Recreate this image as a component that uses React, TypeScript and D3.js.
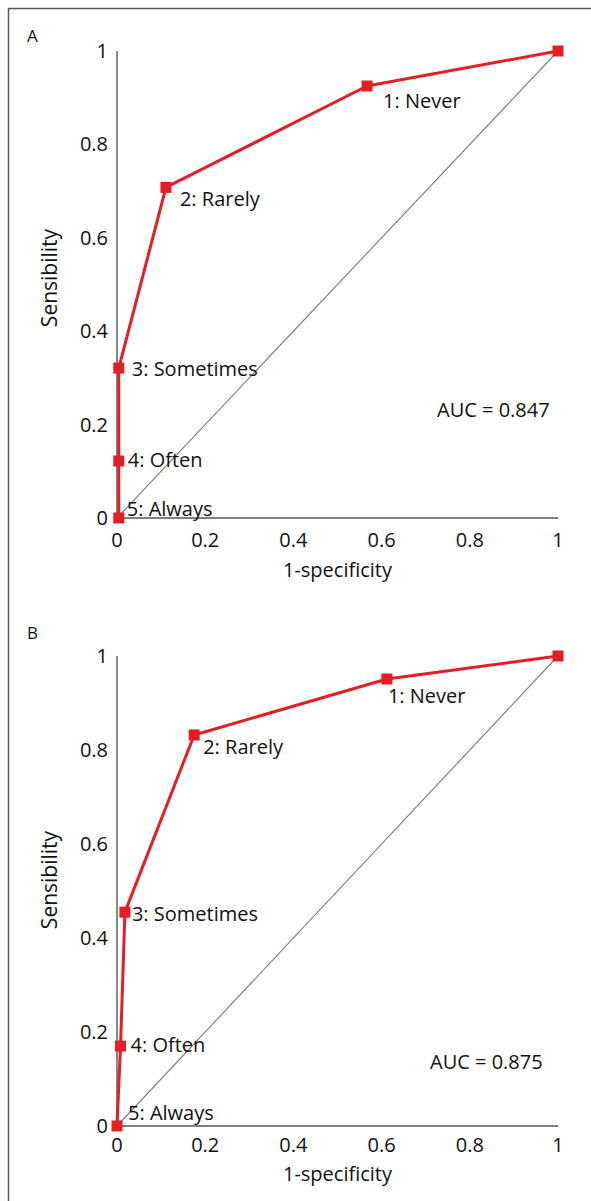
import React from "react";
import * as d3 from "d3";

// ---- Data ----
const tickValues = [0, 0.2, 0.4, 0.6, 0.8, 1];
const tickLabels = ["0", "0.2", "0.4", "0.6", "0.8", "1"];
const pointLabels = ["5: Always", "4: Often", "3: Sometimes", "2: Rarely", "1: Never", ""];

const fprA = [0.004, 0.004, 0.004, 0.111, 0.567, 1];
const tprA = [0, 0.122, 0.321, 0.708, 0.925, 1];
const aucA = "AUC = 0.847";

const fprB = [0, 0.008, 0.018, 0.175, 0.612, 1];
const tprB = [0, 0.17, 0.455, 0.832, 0.951, 1];
const aucB = "AUC = 0.875";

const xTitle = "1-specificity";
const yTitle = "Sensibility";

// ---- Layout (not data) ----
const W = 591;
const H = 1201;
const FONT = "'Open Sans', 'Noto Sans', sans-serif";
const RED = "#e31e24";

type PanelCfg = {
  letter: string;
  letterY: number;
  fpr: number[];
  tpr: number[];
  auc: string;
  aucX: number;
  aucY: number;
  y0: number;
  y1: number;
  xTickDy: number;
  xTitleY: number;
  yTitleY: number;
  labelOffsets: [number, number][];
};

const panels: PanelCfg[] = [
  {
    letter: "A",
    letterY: 42,
    fpr: fprA,
    tpr: tprA,
    auc: aucA,
    aucX: 437,
    aucY: 417,
    y0: 518,
    y1: 51,
    xTickDy: 29,
    xTitleY: 577,
    yTitleY: 278,
    labelOffsets: [
      [8, -2],
      [9, 6],
      [13, 8],
      [14, 19],
      [16, 22],
      [0, 0],
    ],
  },
  {
    letter: "B",
    letterY: 639,
    fpr: fprB,
    tpr: tprB,
    auc: aucB,
    aucX: 430,
    aucY: 1069,
    y0: 1126,
    y1: 656,
    xTickDy: 26,
    xTitleY: 1181,
    yTitleY: 880,
    labelOffsets: [
      [11, -6],
      [10, 6],
      [7, 9],
      [9, 19],
      [1, 24],
      [0, 0],
    ],
  },
];

const X0 = 117;
const X1 = 558;

function Panel({ cfg }: { cfg: PanelCfg }) {
  const x = d3.scaleLinear().domain([0, 1]).range([X0, X1]);
  const y = d3.scaleLinear().domain([0, 1]).range([cfg.y0, cfg.y1]);
  const pts = cfg.fpr.map((f, i) => [f, cfg.tpr[i]] as [number, number]);
  const line = d3
    .line<[number, number]>()
    .x((d) => x(d[0]))
    .y((d) => y(d[1]));
  const sq = 11;
  return (
    <g>
      <text x={27} y={cfg.letterY} fontSize={17} fill="#111">
        {cfg.letter}
      </text>
      {/* diagonal reference */}
      <line x1={x(0)} y1={y(0)} x2={x(1)} y2={y(1)} stroke="#7a7a7a" strokeWidth={1.1} />
      {/* axes */}
      <line x1={x(0)} y1={y(0)} x2={x(0)} y2={y(1)} stroke="#111" strokeWidth={1} />
      <line x1={x(0)} y1={y(0)} x2={x(1)} y2={y(0)} stroke="#555" strokeWidth={1.4} />
      {/* y ticks */}
      {tickValues.map((t, i) => (
        <text
          key={"y" + i}
          x={X0 - 9}
          y={y(t)}
          dy="0.35em"
          textAnchor="end"
          fontSize={20}
          fill="#111"
        >
          {tickLabels[i]}
        </text>
      ))}
      {/* x ticks */}
      {tickValues.map((t, i) => (
        <text
          key={"x" + i}
          x={x(t)}
          y={cfg.y0 + cfg.xTickDy}
          textAnchor="middle"
          fontSize={20}
          fill="#111"
        >
          {tickLabels[i]}
        </text>
      ))}
      <text x={(X0 + X1) / 2} y={cfg.xTitleY} textAnchor="middle" fontSize={20} fill="#111">
        {xTitle}
      </text>
      <text
        transform={`translate(57,${cfg.yTitleY}) rotate(-90)`}
        textAnchor="middle"
        fontSize={21}
        fill="#111"
      >
        {yTitle}
      </text>
      {/* ROC curve */}
      <path d={line(pts) || ""} fill="none" stroke={RED} strokeWidth={3} strokeLinejoin="round" />
      {pts.map((p, i) => (
        <rect
          key={"p" + i}
          x={x(p[0]) - sq / 2}
          y={y(p[1]) - sq / 2}
          width={sq}
          height={sq}
          fill={RED}
        />
      ))}
      {pts.map((p, i) =>
        pointLabels[i] ? (
          <text
            key={"l" + i}
            x={x(p[0]) + cfg.labelOffsets[i][0]}
            y={y(p[1]) + cfg.labelOffsets[i][1]}
            fontSize={20}
            fill="#111"
          >
            {pointLabels[i]}
          </text>
        ) : null
      )}
      <text x={cfg.aucX} y={cfg.aucY} fontSize={20} fill="#111">
        {cfg.auc}
      </text>
    </g>
  );
}

export default function App() {
  return (
    <svg
      width={W}
      height={H}
      viewBox={`0 0 ${W} ${H}`}
      style={{ position: "absolute", left: 0, top: 0, background: "#fff" }}
      fontFamily={FONT}
    >
      <rect x={0} y={0} width={W} height={H} fill="#fff" />
      <line x1={8.5} y1={8} x2={8.5} y2={H} stroke="#555" strokeWidth={1.5} />
      <line x1={8} y1={8.5} x2={W} y2={8.5} stroke="#555" strokeWidth={1.5} />
      {panels.map((p) => (
        <Panel key={p.letter} cfg={p} />
      ))}
    </svg>
  );
}
